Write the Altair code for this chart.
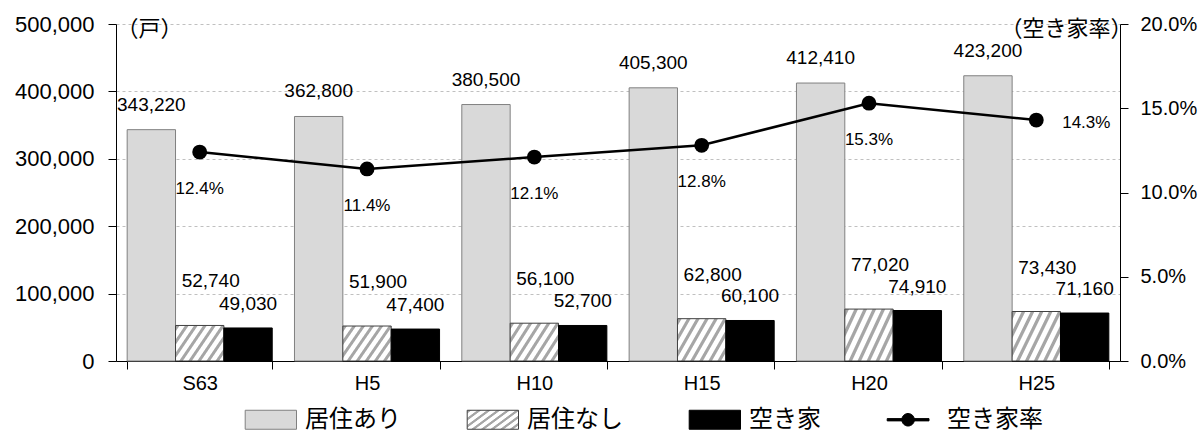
import altair as alt
import pandas as pd

# ---- data ----
categories = ["S63", "H5", "H10", "H15", "H20", "H25"]
occupied = [343220, 362800, 380500, 405300, 412410, 423200]      # 居住あり
unoccupied = [52740, 51900, 56100, 62800, 77020, 73430]          # 居住なし
vacant = [49030, 47400, 52700, 60100, 74910, 71160]              # 空き家
vacancy_rate = [0.124, 0.114, 0.121, 0.128, 0.153, 0.143]        # 空き家率
series_names = ["居住あり", "居住なし", "空き家", "空き家率"]
left_ticks = [0, 100000, 200000, 300000, 400000, 500000]
right_ticks = [0.0, 0.05, 0.10, 0.15, 0.20]

bars_df = pd.DataFrame({
    "cat": categories * 3,
    "series": [series_names[0]] * 6 + [series_names[1]] * 6 + [series_names[2]] * 6,
    "value": occupied + unoccupied + vacant,
})
rate_df = pd.DataFrame({"cat": categories, "series": series_names[3], "rate": vacancy_rate})

# ---- styles ----
JP = "Noto Sans CJK JP"
NUM = "Liberation Sans"

# diagonal hatch as a striped linear gradient
stops = []
n = 8
for k in range(n):
    b = k / n
    stops += [(b, "#ffffff"), (b + 0.015, "#a6a6a6"), (b + 0.05, "#a6a6a6"), (b + 0.065, "#ffffff")]
stops.append((1.0, "#ffffff"))
stops_expr = ",".join("{'offset': %.4f, 'color': '%s'}" % (o, c) for o, c in stops)
hatch = alt.ExprRef(expr="{'gradient': 'linear', 'x1': 0, 'y1': 0, 'x2': 1.2, 'y2': 0.6, 'stops': [%s]}" % stops_expr)

rect_path = "M-1.7,-0.5H1.0V0.5H-1.7Z"
linedot_path = ("M-1.7,-0.06H0.5V0.06H-1.7Z "
                "M-0.6,-0.33A0.33,0.33,0,1,1,-0.6,0.33A0.33,0.33,0,1,1,-0.6,-0.33Z")

fill_scale = alt.Scale(domain=series_names, range=["#d9d9d9", hatch, "#000000", "#000000"])
stroke_scale = alt.Scale(domain=series_names, range=["#808080", "#404040", "#000000", "#000000"])
shape_scale = alt.Scale(domain=series_names, range=[rect_path, rect_path, rect_path, linedot_path])

legend = alt.Legend(
    title=None, orient="none", legendX=142, legendY=376, direction="horizontal",
    columns=4, symbolSize=1444, labelFont=JP, labelFontSize=24, labelOffset=8,
    columnPadding=64, symbolStrokeWidth=1, padding=0, labelColor="#000000",
    symbolOpacity=1, labelLimit=0,
)

band_scale = alt.Scale(domain=categories, paddingInner=0.133, paddingOuter=0.0667)
x_axis = alt.Axis(
    title=None, labelAngle=0, labelFont=NUM, labelFontSize=20, labelColor="#000000",
    tickBand="extent", tickSize=8, tickColor="#000000", domainColor="#000000",
    labelPadding=4, grid=False,
)
x_enc = alt.X("cat:N", sort=categories, scale=band_scale, axis=x_axis)
xoff_enc = alt.XOffset("series:N", sort=series_names[:3], scale=alt.Scale(domain=series_names[:3]))

left_scale = alt.Scale(domain=[0, 500000], nice=False)
left_axis = alt.Axis(
    values=left_ticks, labelExpr="format(datum.value, ',')", labelFont=NUM, labelFontSize=22,
    labelColor="#000000", tickSize=8, tickColor="#000000", domainColor="#000000",
    labelPadding=14, grid=True, gridDash=[3, 3], gridColor="#c0c0c0",
    title="（戸）", titleAngle=0, titleAlign="left", titleBaseline="middle",
    titleX=0, titleY=4, titleFont=JP, titleFontSize=22, titleFontWeight="normal",
    titleColor="#000000",
)
y_left = alt.Y("value:Q", scale=left_scale, axis=left_axis)

bars = alt.Chart(bars_df).mark_bar(strokeWidth=1).encode(
    x=x_enc,
    xOffset=xoff_enc,
    y=y_left,
    fill=alt.Fill("series:N", scale=fill_scale, legend=legend),
    stroke=alt.Stroke("series:N", scale=stroke_scale, legend=legend),
)

def bar_labels(name, dx, dy):
    return alt.Chart(bars_df).transform_filter(
        alt.datum.series == name
    ).mark_text(dx=dx, dy=dy, baseline="middle", align="center", font=NUM, fontSize=19, color="#000000").encode(
        x=x_enc,
        xOffset=xoff_enc,
        y=y_left,
        text=alt.Text("value:Q", format=","),
    )

lab_occ = bar_labels(series_names[0], 0, -25)
lab_unocc = bar_labels(series_names[1], 11, -44)
lab_vac = bar_labels(series_names[2], 0, -24)

legend_dummy = alt.Chart(rate_df).transform_filter("false").mark_point(filled=True, opacity=1).encode(
    x=alt.value(0),
    y=alt.value(0),
    fill=alt.Fill("series:N", scale=fill_scale, legend=legend),
    stroke=alt.Stroke("series:N", scale=stroke_scale, legend=legend),
    shape=alt.Shape("series:N", scale=shape_scale, legend=legend),
)

left_group = alt.layer(bars, lab_occ, lab_unocc, lab_vac, legend_dummy)

right_scale = alt.Scale(domain=[0, 0.2], nice=False)
right_axis = alt.Axis(
    orient="right", values=right_ticks, format=".1%", labelFont=NUM, labelFontSize=20,
    labelColor="#000000", tickSize=8, tickColor="#000000", domainColor="#000000",
    labelPadding=12, grid=False,
    title="（空き家率）", titleAngle=0, titleAlign="right", titleBaseline="middle",
    titleX=12, titleY=4, titleFont=JP, titleFontSize=22, titleFontWeight="normal",
    titleColor="#000000",
)
y_right = alt.Y("rate:Q", scale=right_scale, axis=right_axis)

line = alt.Chart(rate_df).mark_line(color="#000000", strokeWidth=2.5).encode(x=x_enc, y=y_right)
points = alt.Chart(rate_df).mark_point(filled=True, color="#000000", size=220, opacity=1, shape="circle").encode(
    x=x_enc, y=y_right
)
rate_labels = alt.Chart(rate_df).transform_filter(alt.datum.cat != "H25").mark_text(
    dy=37, baseline="middle", align="center", font=NUM, fontSize=17, color="#000000"
).encode(x=x_enc, y=y_right, text=alt.Text("rate:Q", format=".1%"))
rate_label_last = alt.Chart(rate_df).transform_filter(alt.datum.cat == "H25").mark_text(
    dx=50, dy=3, baseline="middle", align="center", font=NUM, fontSize=17, color="#000000"
).encode(x=x_enc, y=y_right, text=alt.Text("rate:Q", format=".1%"))

right_group = alt.layer(line, points, rate_labels, rate_label_last)

chart = alt.layer(left_group, right_group).resolve_scale(y="independent").properties(
    width=1004,
    height=337,
    autosize=alt.AutoSizeParams(type="none"),
    padding={"left": 116, "top": 24, "right": 84, "bottom": 73},
    background="white",
).configure_view(stroke=None)

chart.save("out.html", embed_options={"renderer": "svg", "actions": False})
